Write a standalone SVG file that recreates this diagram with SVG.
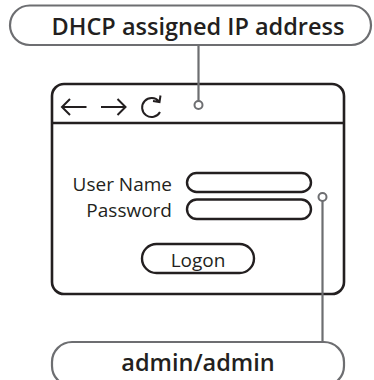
<svg xmlns="http://www.w3.org/2000/svg" width="374" height="380" viewBox="0 0 374 380">
<style>
.pill{fill:#fff;stroke:#6d6e71;stroke-width:2.2}
.win{fill:#fff;stroke:#231f20;stroke-width:2.6}
.field{fill:#fff;stroke:#231f20;stroke-width:2.4}
.icon{fill:none;stroke:#231f20;stroke-width:2;stroke-linecap:butt;stroke-linejoin:miter}
.conn{fill:none;stroke:#6d6e71;stroke-width:2.2}
.dot{fill:#fff;stroke:#6d6e71;stroke-width:2}
.lbl{font-family:"Open Sans","Liberation Sans",sans-serif;font-size:19px;fill:#231f20}
.bold{font-family:"Open Sans","Liberation Sans",sans-serif;font-size:23.5px;font-weight:600;fill:#231f20}
</style>
<g id="browser">
<rect class="win" x="52" y="84" width="292" height="210" rx="12"/>
<line class="win" x1="52" y1="123" x2="344" y2="123"/>
<path class="icon" d="M86.5 107H62M70 99L62 107L70 115"/>
<path class="icon" d="M101 107H125.5M117.5 99L125.5 107L117.5 115"/>
<path class="icon" d="M160 112A9.5 9.5 0 1 1 159 101.5M160.5 95.5L159.5 102L153 101"/>
<text class="lbl" x="172" y="191" text-anchor="end">User Name</text>
<text class="lbl" x="172" y="217" text-anchor="end">Password</text>
<rect class="field" x="187" y="173" width="124" height="19" rx="9.5"/>
<rect class="field" x="187" y="199.5" width="124" height="19.5" rx="9.75"/>
<rect class="field" x="142" y="244" width="112" height="29" rx="14.5"/>
<text class="lbl" x="198" y="267" text-anchor="middle">Logon</text>
</g>
<g id="connectors">
<line class="conn" x1="198.5" y1="45" x2="198.5" y2="101"/>
<circle class="dot" cx="198.5" cy="105" r="4"/>
<line class="conn" x1="322.5" y1="201" x2="322.5" y2="342"/>
<circle class="dot" cx="322.5" cy="197" r="4"/>
</g>
<g id="dhcp">
<rect class="pill" x="10" y="5.5" width="361" height="39.5" rx="19.75"/>
<text class="bold" x="198" y="35" text-anchor="middle">DHCP assigned IP address</text>
</g>
<g id="admin">
<rect class="pill" x="52" y="342" width="292" height="44" rx="20"/>
<text class="bold" x="198" y="371" text-anchor="middle">admin/admin</text>
</g>
</svg>
